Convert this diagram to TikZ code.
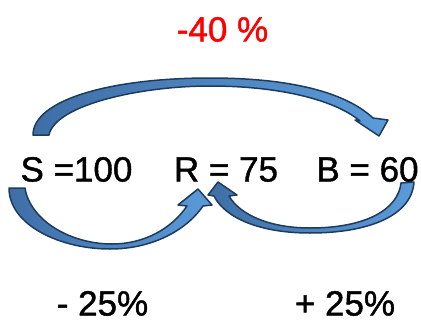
\documentclass[tikz,border=0pt]{standalone}
\usepackage{fontspec}
\setmainfont{Liberation Sans}
\newfontfamily\medfont{Liberation Sans}[FakeBold=1.2]
\definecolor{arrline}{HTML}{1F3B5C}
\definecolor{arrdark}{HTML}{3F6EA6}
\definecolor{arrlight}{HTML}{5B9BD9}
\begin{document}
\begin{tikzpicture}[x=1pt,y=-1pt,
  bigarrow/.style={draw=arrline,line width=1.5pt,line join=round,left color=arrdark,right color=arrlight},
  val/.style={inner sep=0pt,anchor=base,font=\medfont\fontsize{35}{35}\selectfont},
  pct/.style={val,text=red}]
\useasboundingbox (0,0) rectangle (421,322);
% top arrow S -> B
\path[bigarrow] (33,135) -- (49,135)
  .. controls (55,105) and (140,86) .. (210,86)
  .. controls (280,86) and (335,100) .. (360,121)
  -- (355,120) -- (379,136) -- (388,120) -- (373,118)
  .. controls (345,92) and (290,78) .. (210,78)
  .. controls (110,78) and (33,100) .. (33,135) -- cycle;
% bottom-left arrow S -> R
\path[bigarrow] (9,188) -- (25,188)
  .. controls (30,220) and (70,244) .. (112,244)
  .. controls (145,244) and (172,228) .. (187,206)
  -- (178,205) -- (198,189) -- (212,205) -- (203,206)
  .. controls (185,232) and (150,249) .. (110,249)
  .. controls (60,249) and (9,225) .. (9,188) -- cycle;
% bottom-right arrow B -> R
\path[bigarrow] (401,183) -- (414,182)
  .. controls (412,215) and (370,233) .. (310,233)
  .. controls (260,233) and (225,218) .. (214,196)
  -- (208,195) -- (218,182) -- (237,195) -- (229,196)
  .. controls (240,215) and (270,228) .. (310,228)
  .. controls (365,228) and (398,210) .. (401,183) -- cycle;
\node[val] (s) at (76.5,181.5) {S =100};
\node[val] (r) at (226,181.5) {R = 75};
\node[val] (b) at (367.5,181.5) {B = 60};
\node[pct] (top) at (222.5,41.5) {-40 \%};
\node[val] (minus) at (102.5,315.5) {- 25\%};
\node[val] (plus) at (345,315.5) {+ 25\%};
\end{tikzpicture}
\end{document}
